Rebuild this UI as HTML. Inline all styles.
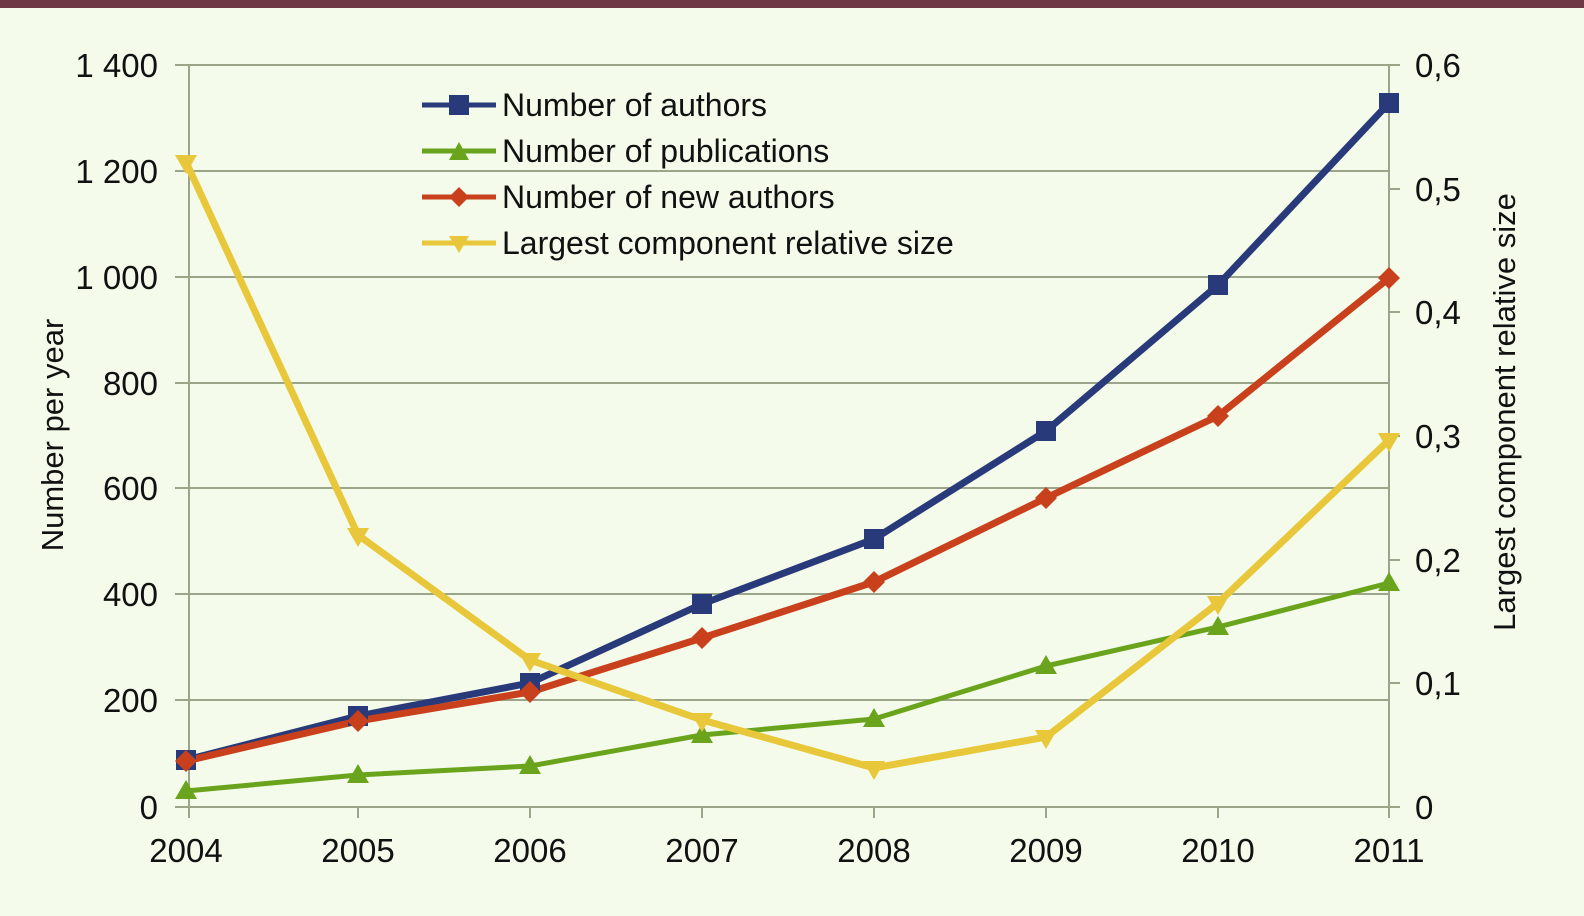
<!DOCTYPE html>
<html><head><style>
html,body{margin:0;padding:0;background:#f4fbea;}
svg{display:block;}
text{font-family:"Liberation Sans Narrow","Liberation Sans",sans-serif;fill:#111;}
</style></head><body>
<svg width="1584" height="916" viewBox="0 0 1584 916" xmlns="http://www.w3.org/2000/svg">
<rect x="0" y="0" width="1584" height="916" fill="#f4fbea"/>
<rect x="0" y="0" width="1584" height="8" fill="#6e3845"/>
<g stroke="#9aa58a" stroke-width="2">
<line x1="175" y1="65" x2="1389" y2="65"/>
<line x1="175" y1="171" x2="1389" y2="171"/>
<line x1="175" y1="277" x2="1389" y2="277"/>
<line x1="175" y1="383" x2="1389" y2="383"/>
<line x1="175" y1="488" x2="1389" y2="488"/>
<line x1="175" y1="594" x2="1389" y2="594"/>
<line x1="175" y1="700" x2="1389" y2="700"/>
<line x1="175" y1="807" x2="1400" y2="807"/>
<line x1="189" y1="65" x2="189" y2="818"/>
<line x1="1389" y1="65" x2="1389" y2="818"/>
<line x1="1389" y1="65" x2="1400" y2="65"/><line x1="1389" y1="189" x2="1400" y2="189"/>
<line x1="1389" y1="312" x2="1400" y2="312"/><line x1="1389" y1="436" x2="1400" y2="436"/>
<line x1="1389" y1="560" x2="1400" y2="560"/><line x1="1389" y1="683" x2="1400" y2="683"/>
<line x1="358" y1="807" x2="358" y2="818"/><line x1="530" y1="807" x2="530" y2="818"/>
<line x1="702" y1="807" x2="702" y2="818"/><line x1="874" y1="807" x2="874" y2="818"/>
<line x1="1046" y1="807" x2="1046" y2="818"/><line x1="1218" y1="807" x2="1218" y2="818"/>
</g>
<g font-size="33" text-anchor="end">
<text x="158" y="77">1 400</text><text x="158" y="183">1 200</text><text x="158" y="289">1 000</text>
<text x="158" y="395">800</text><text x="158" y="500">600</text><text x="158" y="606">400</text>
<text x="158" y="712">200</text><text x="158" y="819">0</text>
</g>
<g font-size="33" text-anchor="start">
<text x="1415" y="77">0,6</text><text x="1415" y="201">0,5</text><text x="1415" y="324">0,4</text>
<text x="1415" y="448">0,3</text><text x="1415" y="572">0,2</text><text x="1415" y="695">0,1</text>
<text x="1415" y="819">0</text>
</g>
<g font-size="33" text-anchor="middle">
<text x="186" y="862">2004</text><text x="358" y="862">2005</text><text x="530" y="862">2006</text>
<text x="702" y="862">2007</text><text x="874" y="862">2008</text><text x="1046" y="862">2009</text>
<text x="1218" y="862">2010</text><text x="1389" y="862">2011</text>
</g>
<text font-size="31" text-anchor="middle" transform="translate(63,435) rotate(-90)">Number per year</text>
<text font-size="31" text-anchor="middle" transform="translate(1515,412) rotate(-90)">Largest component relative size</text>

<g fill="none" stroke-width="7" stroke-linejoin="round">
<polyline stroke="#293a7a" points="186,760 358,716 530,683 702,604 874,539 1046,431 1218,285 1389,103"/>
<polyline stroke="#6aa41c" stroke-width="5" points="186,791 358,775 530,766 702,735 874,719 1046,666 1218,627 1389,583"/>
<polyline stroke="#c8401c" points="186,761 358,721 530,692 702,638 874,582 1046,498 1218,416 1389,278"/>
<polyline stroke="#e8c83a" points="186,162 358,535 530,660 702,720 874,768 1046,737 1218,603 1389,440"/>
</g>
<g fill="#293a7a">
<rect x="176" y="750" width="20" height="20"/><rect x="348" y="706" width="20" height="20"/>
<rect x="520" y="673" width="20" height="20"/><rect x="692" y="594" width="20" height="20"/>
<rect x="864" y="529" width="20" height="20"/><rect x="1036" y="421" width="20" height="20"/>
<rect x="1208" y="275" width="20" height="20"/><rect x="1379" y="93" width="20" height="20"/>
</g>
<g fill="#6aa41c">
<polygon points="186,780 197,799 175,799"/><polygon points="358,764 369,783 347,783"/>
<polygon points="530,755 541,774 519,774"/><polygon points="702,724 713,743 691,743"/>
<polygon points="874,708 885,727 863,727"/><polygon points="1046,655 1057,674 1035,674"/>
<polygon points="1218,616 1229,635 1207,635"/><polygon points="1389,572 1400,591 1378,591"/>
</g>
<g fill="#c8401c">
<polygon points="186,750 197,761 186,772 175,761"/><polygon points="358,710 369,721 358,732 347,721"/>
<polygon points="530,681 541,692 530,703 519,692"/><polygon points="702,627 713,638 702,649 691,638"/>
<polygon points="874,571 885,582 874,593 863,582"/><polygon points="1046,487 1057,498 1046,509 1035,498"/>
<polygon points="1218,405 1229,416 1218,427 1207,416"/><polygon points="1389,267 1400,278 1389,289 1378,278"/>
</g>
<g fill="#e8c83a">
<polygon points="175,155 197,155 186,174"/><polygon points="347,528 369,528 358,547"/>
<polygon points="519,653 541,653 530,672"/><polygon points="691,713 713,713 702,732"/>
<polygon points="863,761 885,761 874,780"/><polygon points="1035,730 1057,730 1046,749"/>
<polygon points="1207,596 1229,596 1218,615"/><polygon points="1378,433 1400,433 1389,452"/>
</g>

<g>
<line x1="422" y1="105" x2="496" y2="105" stroke="#293a7a" stroke-width="5"/>
<rect x="449" y="95" width="20" height="20" fill="#293a7a"/>
<line x1="422" y1="151" x2="496" y2="151" stroke="#6aa41c" stroke-width="5"/>
<polygon points="459,142 469,160 449,160" fill="#6aa41c"/>
<line x1="422" y1="197" x2="496" y2="197" stroke="#c8401c" stroke-width="5"/>
<polygon points="459,187 469,197 459,207 449,197" fill="#c8401c"/>
<line x1="422" y1="243" x2="496" y2="243" stroke="#e8c83a" stroke-width="5"/>
<polygon points="449,236 469,236 459,253" fill="#e8c83a"/>
</g>
<g font-size="32">
<text x="502" y="116">Number of authors</text>
<text x="502" y="162">Number of publications</text>
<text x="502" y="208">Number of new authors</text>
<text x="502" y="254">Largest component relative size</text>
</g>
</svg>
</body></html>
